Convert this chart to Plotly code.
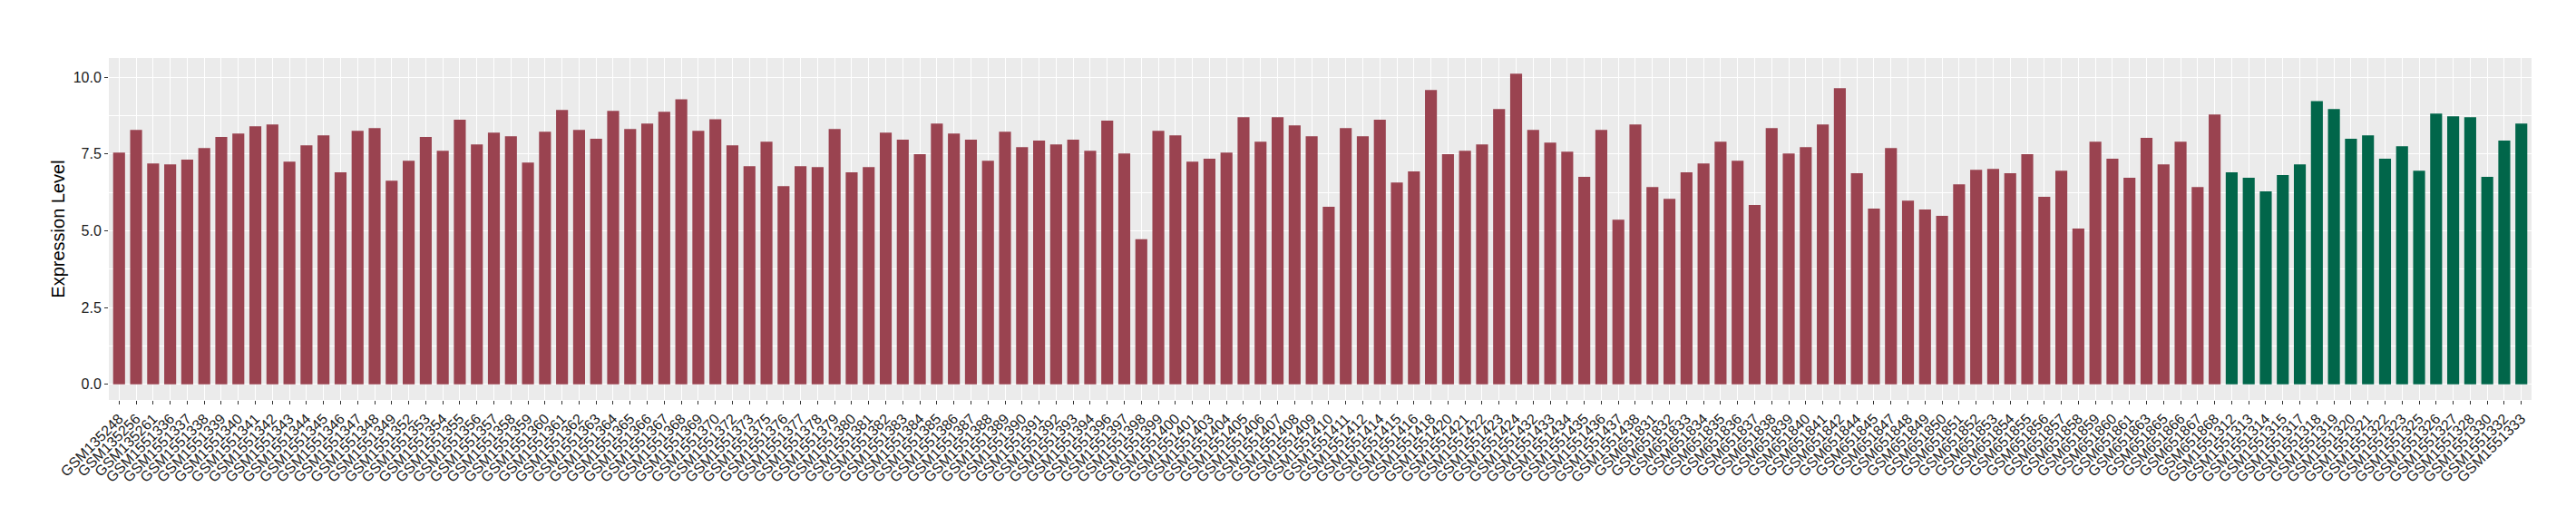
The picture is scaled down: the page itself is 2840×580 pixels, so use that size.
import plotly.graph_objects as go

# sample ids in plot order
samples = [
    "GSM135248", "GSM135256", "GSM135261",
    "GSM1551336", "GSM1551337", "GSM1551338", "GSM1551339", "GSM1551340", "GSM1551341",
    "GSM1551342", "GSM1551343", "GSM1551344", "GSM1551345", "GSM1551346", "GSM1551347",
    "GSM1551348", "GSM1551349", "GSM1551352", "GSM1551353", "GSM1551354", "GSM1551355",
    "GSM1551356", "GSM1551357", "GSM1551358", "GSM1551359", "GSM1551360", "GSM1551361",
    "GSM1551362", "GSM1551363", "GSM1551364", "GSM1551365", "GSM1551366", "GSM1551367",
    "GSM1551368", "GSM1551369", "GSM1551370", "GSM1551372", "GSM1551373", "GSM1551375",
    "GSM1551376", "GSM1551377", "GSM1551378", "GSM1551379", "GSM1551380", "GSM1551381",
    "GSM1551382", "GSM1551383", "GSM1551384", "GSM1551385", "GSM1551386", "GSM1551387",
    "GSM1551388", "GSM1551389", "GSM1551390", "GSM1551391", "GSM1551392", "GSM1551393",
    "GSM1551394", "GSM1551396", "GSM1551397", "GSM1551398", "GSM1551399", "GSM1551400",
    "GSM1551401", "GSM1551403", "GSM1551404", "GSM1551405", "GSM1551406", "GSM1551407",
    "GSM1551408", "GSM1551409", "GSM1551410", "GSM1551411", "GSM1551412", "GSM1551414",
    "GSM1551415", "GSM1551416", "GSM1551418", "GSM1551420", "GSM1551421", "GSM1551422",
    "GSM1551423", "GSM1551424", "GSM1551432", "GSM1551433", "GSM1551434", "GSM1551435",
    "GSM1551436", "GSM1551437", "GSM1551438",
    "GSM651831", "GSM651832", "GSM651833", "GSM651834", "GSM651835", "GSM651836",
    "GSM651837", "GSM651838", "GSM651839", "GSM651840", "GSM651841", "GSM651842",
    "GSM651844", "GSM651845", "GSM651847", "GSM651848", "GSM651849", "GSM651850",
    "GSM651851", "GSM651852", "GSM651853", "GSM651854", "GSM651855", "GSM651856",
    "GSM651857", "GSM651858", "GSM651859", "GSM651860", "GSM651861", "GSM651863",
    "GSM651865", "GSM651866", "GSM651867", "GSM651868",
    "GSM1551312", "GSM1551313", "GSM1551314", "GSM1551315", "GSM1551317", "GSM1551318",
    "GSM1551319", "GSM1551320", "GSM1551321", "GSM1551322", "GSM1551323", "GSM1551325",
    "GSM1551326", "GSM1551327", "GSM1551328", "GSM1551330", "GSM1551332", "GSM1551333",
]

expression = [
    7.54, 8.28, 7.19,
    7.16, 7.31, 7.69, 8.05, 8.16, 8.40,
    8.46, 7.25, 7.78, 8.10, 6.90, 8.25,
    8.34, 6.63, 7.28, 8.05, 7.60, 8.61,
    7.81, 8.19, 8.07, 7.22, 8.22, 8.93,
    8.28, 7.99, 8.90, 8.31, 8.49, 8.87,
    9.28, 8.25, 8.63, 7.78, 7.10, 7.90,
    6.45, 7.10, 7.07, 8.31, 6.90, 7.07,
    8.19, 7.96, 7.49, 8.49, 8.16, 7.96,
    7.28, 8.22, 7.72, 7.93, 7.81, 7.96,
    7.60, 8.58, 7.51, 4.72, 8.25, 8.10,
    7.25, 7.34, 7.54, 8.69, 7.90, 8.69,
    8.43, 8.07, 5.78, 8.34, 8.07, 8.61,
    6.57, 6.93, 9.58, 7.49, 7.60, 7.81,
    8.96, 10.11, 8.28, 7.87, 7.57, 6.75,
    8.28, 5.36, 8.46,
    6.42, 6.04, 6.90, 7.19, 7.90, 7.28,
    5.84, 8.34, 7.51, 7.72, 8.46, 9.64,
    6.87, 5.72, 7.69, 5.98, 5.69, 5.48,
    6.51, 6.98, 7.01, 6.87, 7.49, 6.10,
    6.95, 5.07, 7.90, 7.34, 6.72, 8.02,
    7.16, 7.90, 6.42, 8.78,
    6.90, 6.72, 6.28, 6.81, 7.16, 9.22,
    8.96, 7.99, 8.10, 7.34, 7.75, 6.95,
    8.81, 8.72, 8.69, 6.75, 7.93, 8.49,
]

# 124 samples in the first group, 18 in the second
n_first = 124
group = ["A"] * n_first + ["B"] * (len(samples) - n_first)
group_colors = {"A": "#9A4350", "B": "#01664A"}

fig = go.Figure(go.Bar(
    x=samples,
    y=expression,
    marker=dict(color=[group_colors[g] for g in group], line=dict(width=0)),
    showlegend=False,
))

fig.update_layout(
    width=2840, height=580,
    margin=dict(l=112, r=57, t=56, b=147),
    paper_bgcolor="white",
    plot_bgcolor="#EBEBEB",
    bargap=0.3,
    font=dict(family="Liberation Sans, Arial, sans-serif", color="#1A1A1A"),
)
fig.update_xaxes(
    type="category",
    range=[-0.6, len(samples) - 0.4],
    tickmode="array", tickvals=samples, ticktext=samples,
    tickangle=-45,
    tickfont=dict(size=16, color="#1A1A1A"),
    showgrid=True, gridcolor="white", gridwidth=1.1,
    ticks="outside", ticklen=4, tickcolor="#333333", tickwidth=1,
    showline=False, zeroline=False,
)
fig.update_yaxes(
    range=[-0.51, 10.62],
    tickvals=[0, 2.5, 5, 7.5, 10],
    ticktext=["0.0", "2.5", "5.0", "7.5", "10.0"],
    tickfont=dict(size=16, color="#1A1A1A"),
    showgrid=True, gridcolor="white", gridwidth=1.1,
    minor=dict(tickvals=[1.25, 3.75, 6.25, 8.75], showgrid=True,
               gridcolor="white", gridwidth=0.5),
    ticks="outside", ticklen=4, tickcolor="#333333", tickwidth=1,
    zeroline=False, showline=False,
    title=dict(text="Expression Level", font=dict(size=20, color="#000000"), standoff=3),
)

fig.write_html("out.html")
